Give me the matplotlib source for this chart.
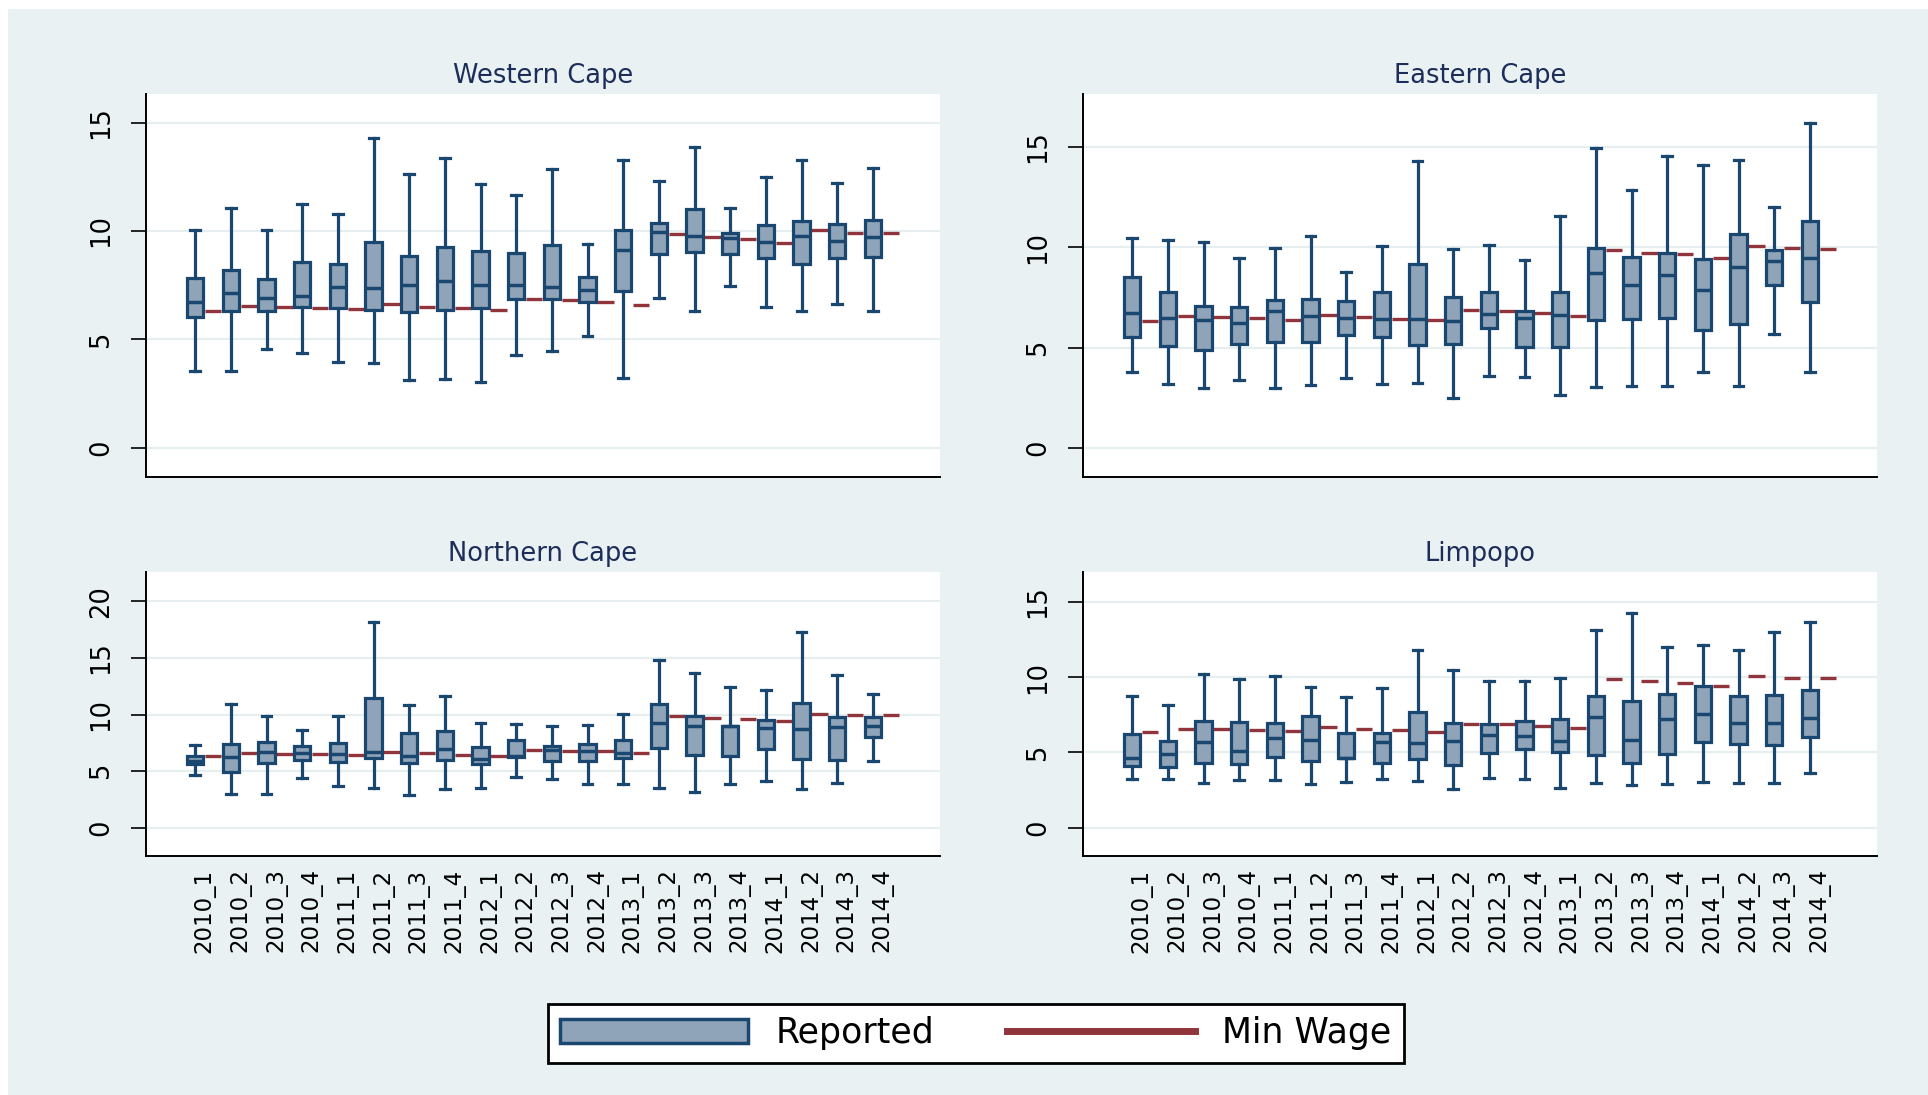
import matplotlib
matplotlib.use('Agg')
import matplotlib.pyplot as plt
from matplotlib.patches import Patch, Rectangle
from matplotlib.lines import Line2D

# colores estilo Stata s2color
fundo = '#e9f1f3'
grade = '#e6eef0'
azul = '#1a476f'
preenchimento = '#8fa4b8'
vermelho = '#90353b'
cor_titulo = '#1c2d5a'

trimestres = ['2010_1', '2010_2', '2010_3', '2010_4',
              '2011_1', '2011_2', '2011_3', '2011_4',
              '2012_1', '2012_2', '2012_3', '2012_4',
              '2013_1', '2013_2', '2013_3', '2013_4',
              '2014_1', '2014_2', '2014_3', '2014_4']

# Western Cape
wc_min = [3.55, 3.54, 4.57, 4.35, 3.97, 3.89, 3.11, 3.15, 3.03, 4.28,
          4.48, 5.17, 3.23, 6.89, 6.29, 7.48, 6.51, 6.32, 6.62, 6.31]
wc_q1 = [6.02, 6.32, 6.32, 6.51, 6.43, 6.35, 6.25, 6.35, 6.46, 6.88,
         6.86, 6.74, 7.25, 8.94, 9.02, 8.92, 8.74, 8.48, 8.74, 8.78]
wc_med = [6.74, 7.15, 6.89, 7.00, 7.43, 7.38, 7.49, 7.71, 7.49, 7.49,
          7.42, 7.29, 9.12, 9.94, 9.78, 9.69, 9.49, 9.77, 9.52, 9.71]
wc_q3 = [7.82, 8.20, 7.78, 8.58, 8.46, 9.51, 8.83, 9.25, 9.09, 8.98,
         9.35, 7.88, 10.05, 10.38, 11.00, 9.92, 10.28, 10.48, 10.31, 10.49]
wc_max = [10.05, 11.08, 10.03, 11.23, 10.77, 14.28, 12.63, 13.37, 12.15, 11.68,
          12.85, 9.38, 13.28, 12.29, 13.86, 11.08, 12.51, 13.29, 12.23, 12.92]
wc_salario = [6.31, 6.55, 6.49, 6.46, 6.38, 6.62, 6.51, 6.43, 6.35, 6.88,
              6.82, 6.71, 6.58, 9.86, 9.71, 9.62, 9.43, 10.05, 9.92, 9.89]

# Eastern Cape
ec_min = [3.77, 3.22, 3.02, 3.38, 3.00, 3.17, 3.48, 3.19, 3.25, 2.51,
          3.58, 3.53, 2.67, 3.07, 3.12, 3.12, 3.77, 3.12, 5.66, 3.78]
ec_q1 = [5.51, 5.09, 4.88, 5.19, 5.26, 5.26, 5.61, 5.54, 5.16, 5.19,
         5.96, 5.04, 5.04, 6.40, 6.45, 6.47, 5.87, 6.16, 8.11, 7.27]
ec_med = [6.74, 6.47, 6.37, 6.24, 6.82, 6.60, 6.50, 6.44, 6.44, 6.32,
          6.70, 6.49, 6.65, 8.74, 8.13, 8.61, 7.85, 9.03, 9.31, 9.47]
ec_q3 = [8.53, 7.75, 7.08, 7.05, 7.37, 7.40, 7.30, 7.75, 9.18, 7.50,
         7.75, 6.84, 7.78, 9.94, 9.51, 9.71, 9.39, 10.65, 9.84, 11.32]
ec_max = [10.47, 10.34, 10.27, 9.44, 9.97, 10.57, 8.76, 10.04, 14.29, 9.91,
          10.09, 9.37, 11.53, 14.95, 12.84, 14.52, 14.10, 14.35, 12.01, 16.16]
ec_salario = [6.32, 6.57, 6.52, 6.49, 6.40, 6.64, 6.54, 6.45, 6.37, 6.89,
              6.84, 6.74, 6.60, 9.86, 9.71, 9.64, 9.44, 10.07, 9.94, 9.92]

# Northern Cape
nc_min = [4.62, 2.97, 2.94, 4.35, 3.68, 3.47, 2.85, 3.38, 3.47, 4.47,
          4.32, 3.82, 3.82, 3.47, 3.12, 3.82, 4.09, 3.38, 3.97, 5.91]
nc_q1 = [5.59, 4.91, 5.71, 5.97, 5.79, 6.12, 5.76, 5.97, 5.62, 6.26,
         5.94, 5.88, 6.18, 7.03, 6.44, 6.38, 6.94, 6.06, 6.00, 8.06]
nc_med = [5.94, 6.24, 6.65, 6.56, 6.53, 6.65, 6.32, 6.97, 6.09, 6.32,
          6.91, 6.74, 6.62, 9.24, 9.00, 9.00, 8.79, 8.76, 8.88, 8.97]
nc_q3 = [6.32, 7.41, 7.59, 7.18, 7.47, 11.47, 8.35, 8.56, 7.09, 7.79,
         7.18, 7.38, 7.79, 10.94, 9.91, 9.00, 9.50, 11.06, 9.82, 9.82]
nc_max = [7.29, 10.91, 9.91, 8.68, 9.88, 18.18, 10.82, 11.62, 9.26, 9.21,
          8.97, 9.12, 10.06, 14.79, 13.71, 12.47, 12.15, 17.26, 13.53, 11.79]
nc_salario = [6.32, 6.56, 6.50, 6.50, 6.41, 6.65, 6.56, 6.41, 6.35, 6.91,
              6.82, 6.74, 6.62, 9.88, 9.71, 9.65, 9.41, 10.03, 9.94, 9.94]

# Limpopo
lp_min = [3.25, 3.20, 2.96, 3.16, 3.14, 2.92, 3.05, 3.23, 3.07, 2.58,
          3.27, 3.23, 2.61, 2.94, 2.81, 2.87, 3.00, 2.94, 2.96, 3.64]
lp_q1 = [4.11, 4.06, 4.31, 4.24, 4.68, 4.40, 4.62, 4.29, 4.59, 4.13,
         4.93, 5.24, 4.99, 4.82, 4.31, 4.88, 5.68, 5.54, 5.48, 6.05]
lp_med = [4.64, 4.90, 5.70, 5.06, 5.92, 5.85, 4.62, 5.70, 5.65, 5.72,
          6.16, 6.10, 5.77, 7.36, 5.81, 7.22, 7.53, 6.98, 6.98, 7.27]
lp_q3 = [6.23, 5.77, 7.11, 7.00, 6.98, 7.38, 6.27, 6.30, 7.71, 6.94,
         6.87, 7.11, 7.18, 8.75, 8.39, 8.84, 9.39, 8.77, 8.79, 9.12]
lp_max = [8.75, 8.11, 10.18, 9.90, 10.10, 9.32, 8.70, 9.30, 11.77, 10.45,
          9.76, 9.74, 9.96, 13.12, 14.25, 11.97, 12.13, 11.82, 12.97, 13.65]
lp_salario = [6.32, 6.58, 6.54, 6.49, 6.41, 6.65, 6.54, 6.45, 6.36, 6.91,
              6.85, 6.74, 6.63, 9.87, 9.72, 9.63, 9.43, 10.07, 9.96, 9.96]

paineis = [
    ('Western Cape', wc_min, wc_q1, wc_med, wc_q3, wc_max, wc_salario,
     [146, 94, 940, 477], (-1.35, 16.32), [0, 5, 10, 15], False),
    ('Eastern Cape', ec_min, ec_q1, ec_med, ec_q3, ec_max, ec_salario,
     [1083, 94, 1877, 477], (-1.43, 17.62), [0, 5, 10, 15], False),
    ('Northern Cape', nc_min, nc_q1, nc_med, nc_q3, nc_max, nc_salario,
     [146, 572, 940, 856], (-2.5, 22.6), [0, 5, 10, 15, 20], True),
    ('Limpopo', lp_min, lp_q1, lp_med, lp_q3, lp_max, lp_salario,
     [1083, 572, 1877, 856], (-1.88, 16.97), [0, 5, 10, 15], True),
]

W, H = 1928, 1095
fig = plt.figure(figsize=(W / 100, H / 100), dpi=100, facecolor='white')
fig.patches.append(Rectangle((8 / W, 0), 1, 1 - 9 / H, transform=fig.transFigure,
                             facecolor=fundo, edgecolor='none', zorder=-10))

for nome, mn, q1, med, q3, mx, sal, caixa, lim, marcas, rotulos in paineis:
    x0, y0, x1, y1 = caixa
    ax = fig.add_axes([x0 / W, 1 - y1 / H, (x1 - x0) / W, (y1 - y0) / H])
    ax.set_facecolor('white')

    n = len(trimestres)
    pos_rep = [i - 0.25 for i in range(n)]
    pos_sal = [i + 0.25 for i in range(n)]

    stats = []
    for i in range(n):
        stats.append(dict(whislo=mn[i], q1=q1[i], med=med[i], q3=q3[i],
                          whishi=mx[i], fliers=[]))

    ax.bxp(stats, positions=pos_rep, widths=0.46, capwidths=0.27,
           patch_artist=True, showfliers=False, manage_ticks=False,
           boxprops=dict(facecolor=preenchimento, edgecolor=azul, linewidth=2.3),
           whiskerprops=dict(color=azul, linewidth=2.3),
           capprops=dict(color=azul, linewidth=2.3),
           medianprops=dict(color=azul, linewidth=2.5),
           zorder=3)

    # salario minimo: caixa sem altura, vira so um traco
    ax.hlines(sal, [p - 0.23 for p in pos_sal], [p + 0.23 for p in pos_sal],
              colors=vermelho, linewidth=2.4, zorder=2)

    ax.set_xlim(-1.63, 20.63)
    ax.set_ylim(*lim)
    ax.set_yticks(marcas)
    ax.set_yticklabels([str(m) for m in marcas], rotation=90, va='center')
    ax.tick_params(axis='y', length=11, width=1.2, pad=12, labelsize=18.5)
    ax.set_xticks(range(n))
    if rotulos:
        ax.set_xticklabels(trimestres, rotation=90, fontsize=16.5)
    else:
        ax.set_xticklabels([])
    ax.tick_params(axis='x', length=0, pad=9)

    ax.yaxis.grid(True, color=grade, linewidth=1.6)
    ax.set_axisbelow(True)
    for lado in ['top', 'right']:
        ax.spines[lado].set_visible(False)
    for lado in ['left', 'bottom']:
        ax.spines[lado].set_linewidth(1.4)
        ax.spines[lado].set_color('black')

    ax.set_title(nome, fontsize=18.5, color=cor_titulo, pad=8)

handles = [Patch(facecolor=preenchimento, edgecolor=azul, linewidth=2.5, label='Reported'),
           Line2D([], [], color=vermelho, linewidth=5, label='Min Wage')]
leg = fig.legend(handles=handles, loc='center', bbox_to_anchor=(0.5062, 0.0562),
                 ncol=2, fontsize=25, frameon=True, fancybox=False,
                 edgecolor='black', framealpha=1, handlelength=5.4,
                 handletextpad=0.8, columnspacing=2.1, borderpad=0.35)
leg.get_frame().set_linewidth(2)

fig.savefig('out.png', dpi=100, facecolor=fig.get_facecolor())
